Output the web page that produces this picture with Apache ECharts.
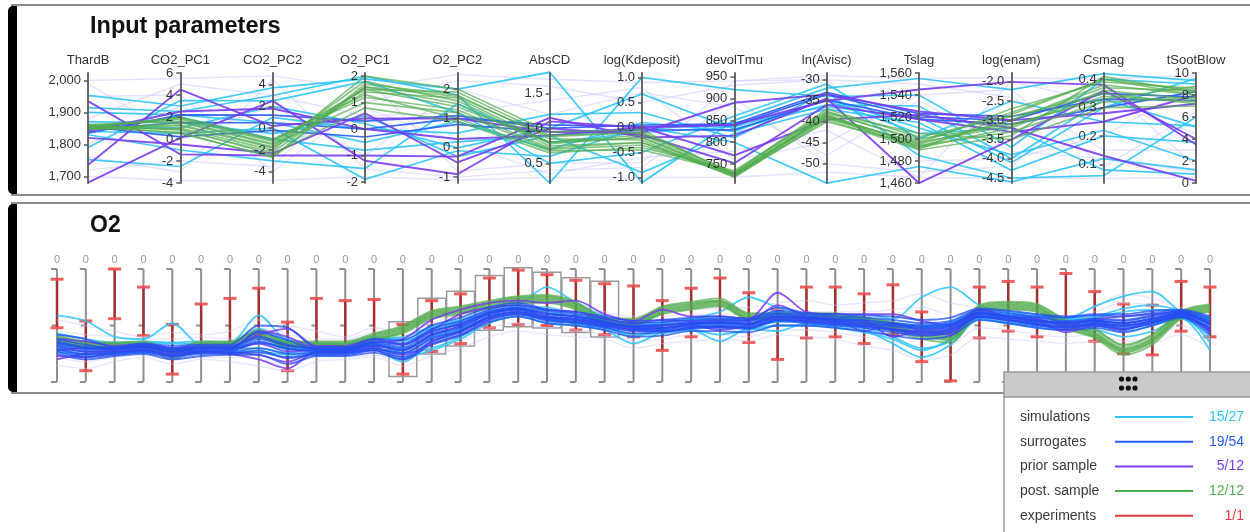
<!DOCTYPE html>
<html>
<head>
<meta charset="utf-8">
<script src="https://cdn.jsdelivr.net/npm/echarts@6/dist/echarts.min.js"></script>
<style>
html, body { margin: 0; padding: 0; background: #fff; }
#chart { width: 1250px; height: 532px; }
</style>
</head>
<body>
<div id="chart"></div>
<script>
const FONT = '"Liberation Sans", Arial, Helvetica, sans-serif';

// ---- groups / legend ----
const groupNames  = ['simulations', 'surrogates', 'prior sample', 'post. sample', 'experiments'];
const groupCounts = ['15/27', '19/54', '5/12', '12/12', '1/1'];
const groupColors = ['#2ec4f6', '#2a5cf6', '#7a3cf0', '#52ad4f', '#e23c3c'];
const fadedColor  = '#c9c6ff';

// ---- input parameter axes ----
const inputAxes = ['ThardB', 'CO2_PC1', 'CO2_PC2', 'O2_PC1', 'O2_PC2', 'AbsCD', 'log(Kdeposit)',
  'devolTmu', 'ln(Avisc)', 'Tslag', 'log(enam)', 'Csmag', 'tSootBlow'];
const inputMin = [1679, -4, -5.02, -2.04, -1.2, 0.22, -1.11, 707, -54.6, 1460, -4.63, 0.034, 0];
const inputMax = [2023, 6, 5.06, 2.12, 2.55, 1.79, 1.09, 958, -28.4, 1560, -1.77, 0.422, 10];
const inputTicks = [
  [1700, 1800, 1900, 2000],
  [-4, -2, 0, 2, 4, 6],
  [-4, -2, 0, 2, 4],
  [-2, -1, 0, 1, 2],
  [-1, 0, 1, 2],
  [0.5, 1.0, 1.5],
  [-1.0, -0.5, 0.0, 0.5, 1.0],
  [750, 800, 850, 900, 950],
  [-50, -45, -40, -35, -30],
  [1460, 1480, 1500, 1520, 1540, 1560],
  [-4.5, -4.0, -3.5, -3.0, -2.5, -2.0],
  [0.1, 0.2, 0.3, 0.4],
  [0, 2, 4, 6, 8, 10]
];
const inputDecimals = [0, 0, 0, 0, 0, 1, 1, 0, 0, 0, 1, 1, 0];

// one row per run: ThardB .. tSootBlow
const inputFaded = [
  [2000, 5.5, 4.8, 1.5, 2.5, 1.7, 0.9, 940, -29, 1555, -1.9, 0.40, 9.8],
  [1700, -3.8, -4.8, -1.8, -1.1, 0.3, -1.0, 720, -52, 1465, -4.5, 0.05, 0.5],
  [1950, 4.0, -4.0, 1.0, 2.3, 1.6, 0.5, 930, -30, 1550, -2.4, 0.15, 3.0],
  [1760, -3.0, 4.5, -1.5, -1.0, 0.4, -0.8, 900, -50, 1470, -4.2, 0.38, 1.5],
  [1880, 5.0, 3.0, 0.5, 1.2, 1.4, 0.8, 760, -45, 1540, -2.2, 0.09, 6.5],
  [1720, -2.0, -3.5, 2.0, -0.8, 0.5, -0.7, 940, -30, 1480, -4.0, 0.20, 9.0],
  [1990, 0.0, 2.0, -1.0, 2.0, 1.2, 0.7, 880, -48, 1535, -3.8, 0.12, 1.0],
  [1800, 3.0, -2.0, 0.8, 0.2, 0.35, -0.6, 780, -42, 1465, -2.0, 0.32, 4.5]
];
const inputSim = [
  [1953, 3.0, 3.7, 1.9, 2.0, 1.8, -1.1, 850, -32, 1555, -2.2, 0.42, 9.3],
  [1915, 2.5, 3.0, 2.0, 1.8, 0.22, 1.0, 920, -34, 1540, -3.7, 0.40, 9.0],
  [1860, 1.0, 2.0, 0.2, 0.0, 1.0, 0.67, 830, -36, 1530, -4.0, 0.33, 5.1],
  [1850, 2.0, -1.0, -0.8, 0.2, 0.9, -0.9, 820, -37, 1515, -4.3, 0.20, 3.7],
  [1840, 0.5, 0.0, -1.9, -0.1, 0.6, 0.0, 800, -54.6, 1475, -4.6, 0.12, 1.2],
  [1830, -1.0, -3.0, -1.5, 1.5, 0.8, -0.1, 835, -35, 1505, -3.2, 0.08, 0.8],
  [1752, -2.5, 1.0, 0.0, 0.5, 1.2, 0.3, 810, -33, 1485, -4.5, 0.06, 6.0],
  [1790, 3.5, 2.5, 1.8, 1.2, 0.5, -0.5, 860, -31, 1500, -2.5, 0.25, 5.2],
  [1870, 1.5, -0.5, 0.5, -0.3, 0.9, -0.05, 845, -36.5, 1520, -4.1, 0.30, 9.5],
  [1900, 2.2, 0.5, -0.5, 0.9, 0.7, 0.1, 825, -34.5, 1510, -3.9, 0.22, 2.0]
];
const inputSur = [
  [1845, 1.5, 0.5, 0.0, 1.0, 1.05, 0.02, 838, -33.5, 1520, -3.0, 0.35, 7.8],
  [1855, 0.2, -0.2, -0.3, 0.8, 0.95, -0.05, 828, -34.8, 1518, -3.1, 0.30, 8.3],
  [1835, 2.2, 1.2, 0.3, 1.1, 1.0, 0.05, 842, -33, 1523, -2.9, 0.33, 7.5]
];
const inputPrior = [
  [1680, 0.1, 2.5, -1.2, -0.9, 1.1, 0.0, 840, -35, 1545, -2.0, 0.38, 3.5],
  [1735, 4.5, 0.2, 0.4, 1.0, 0.95, -0.1, 890, -33.5, 1525, -3.0, 0.28, 7.2],
  [1935, -1.4, -2.5, -1.0, -0.3, 1.15, -0.2, 815, -34.5, 1460, -3.5, 0.36, 4.0],
  [1840, 2.5, 1.8, 0.0, 0.3, 0.9, 0.0, 770, -39.5, 1522, -3.2, 0.13, 0.2],
  [1820, -0.5, -2.3, 0.6, -0.5, 1.0, -0.15, 752, -36, 1518, -3.3, 0.25, 8.0]
];
const inputPost = [
  [1855, 1.8, -1.2, 1.5, 1.9, 0.9, -0.1, 730, -37.5, 1498, -2.8, 0.40, 8.4],
  [1850, 1.2, -1.8, 1.4, 1.7, 0.8, -0.2, 725, -38.5, 1495, -3.0, 0.38, 8.0],
  [1860, 0.8, -2.2, 1.6, 1.5, 0.75, -0.3, 722, -39.0, 1492, -3.2, 0.36, 7.6],
  [1845, 1.5, -1.5, 1.0, 1.2, 0.7, -0.35, 728, -38.0, 1500, -3.1, 0.33, 8.8],
  [1858, 0.5, -2.6, 1.7, 1.8, 0.85, -0.25, 720, -39.5, 1490, -3.4, 0.41, 8.2],
  [1852, 2.0, -1.0, 1.3, 1.0, 0.68, -0.45, 732, -37.0, 1502, -2.9, 0.35, 7.2],
  [1848, 1.0, -2.0, 2.0, 2.0, 0.95, -0.05, 726, -38.8, 1496, -2.7, 0.39, 8.6],
  [1862, 1.6, -1.4, 1.5, 1.4, 0.8, -0.15, 724, -40.0, 1494, -3.3, 0.32, 7.8],
  [1855, 0.9, -2.4, 0.8, 0.9, 0.65, -0.4, 735, -37.8, 1505, -3.5, 0.30, 7.0],
  [1850, 1.3, -1.7, 1.8, 1.6, 0.78, -0.2, 722, -38.3, 1493, -3.0, 0.37, 8.4],
  [1857, 1.9, -1.1, 1.2, 1.3, 0.72, -0.3, 729, -39.2, 1497, -3.15, 0.34, 7.4],
  [1853, 0.6, -2.7, 1.6, 1.75, 0.88, -0.1, 727, -38.6, 1491, -2.85, 0.40, 8.0]
];

// ---- O2 output profile (41 points, normalised 0..100 per point) ----
const o2AxisNames = Array.from({ length: 41 }, () => '0');
const o2Range = [0, 100];
const expHigh = [91,54,100,84,51,69,74,83,53,74,72,73,51,72,78,92,99,95,90,87,85,72,83,92,79,64,84,84,78,86,62,45,84,89,84,96,80,69,68,89,84];
const expLow  = [48,10,56,41,7,27,30,42,10,30,28,30,7,27,34,48,51,50,46,42,40,28,40,49,35,20,39,40,34,42,18,1,39,45,40,52,36,25,24,45,40];
const selectedAxes = [12, 13, 14, 15, 16, 17, 18, 19];

const o2Faded = [
  [55,50,45,40,44,42,45,55,50,45,40,48,44,52,60,70,75,72,70,62,58,62,64,65,66,70,72,68,70,72,78,70,66,64,62,58,66,78,74,66,60],
  [15,12,18,22,16,20,18,14,10,18,20,22,14,24,30,40,45,42,40,38,30,34,36,38,36,42,40,38,32,28,20,24,40,38,36,34,36,30,34,42,30],
  [45,42,40,38,38,40,38,48,42,38,38,44,40,48,56,64,68,66,62,60,56,58,60,60,60,64,62,62,62,64,66,60,62,60,58,56,62,70,68,64,58],
  [22,18,22,24,20,22,22,20,16,22,22,24,18,30,36,48,52,48,46,42,36,38,42,42,40,46,46,44,40,36,30,32,48,46,42,40,42,36,40,50,38]
];
const o2Sim = [
  [59,54,40,38,52,33,34,59,36,34,33,38,40,49,55,63,68,84,70,58,50,52,56,62,75,66,60,58,60,56,75,84,68,62,60,56,67,76,80,62,55],
  [36,31,32,32,30,33,32,40,30,31,31,34,26,30,40,55,60,56,53,49,40,47,50,48,50,53,54,52,48,40,30,36,58,55,53,51,52,48,52,58,35],
  [30,27,28,29,25,30,30,30,26,29,29,30,22,28,38,52,58,52,50,46,34,44,46,36,47,45,52,50,46,34,22,33,55,52,50,48,50,45,50,56,28],
  [40,35,34,35,34,34,34,45,35,33,33,37,36,46,52,60,66,62,58,55,51,50,54,55,55,60,58,57,56,52,48,50,62,60,57,55,57,62,64,62,56],
  [27,24,26,27,24,27,27,27,24,26,26,28,18,35,42,54,60,55,52,48,42,43,46,42,46,50,50,48,44,38,28,38,56,52,48,46,46,40,45,56,40],
  [43,38,35,36,35,36,35,47,38,34,34,40,38,48,54,62,67,66,60,56,52,53,56,56,57,62,59,58,57,53,50,53,63,60,58,56,58,65,68,63,57],
  [33,29,30,30,28,30,30,34,29,30,30,32,30,40,47,57,62,58,55,51,47,48,50,51,50,55,55,53,51,47,44,47,59,56,53,51,53,50,54,60,49]
];
const o2Sur = [
  [38,33,30,33,30,31,31,40,33,30,30,36,34,47,54,64,68,63,60,56,52,53,55,56,55,63,60,58,57,55,52,54,64,61,58,57,59,58,61,63,56],
  [30,25,26,28,24,27,27,30,25,26,26,30,26,39,46,58,62,56,54,50,46,46,49,50,49,56,54,52,50,47,45,47,58,55,52,50,52,50,54,59,48],
  [35,30,29,31,29,30,30,44,37,29,29,34,31,44,52,62,66,61,58,54,50,51,53,54,54,61,58,56,55,52,50,52,62,59,57,54,56,55,59,62,54],
  [27,22,24,26,22,25,25,28,21,24,24,28,22,36,44,56,60,54,52,48,43,44,47,48,47,54,52,50,48,44,41,44,57,54,50,48,50,47,52,58,45],
  [42,38,31,34,32,33,33,50,48,31,31,38,37,50,57,66,70,64,62,58,54,55,57,58,56,66,61,60,59,58,55,57,65,63,60,58,60,60,63,64,58],
  [32,27,27,29,26,28,28,35,30,27,27,32,28,41,48,60,64,58,56,52,48,47,51,52,51,58,56,54,52,49,47,49,60,57,54,52,54,52,56,60,51],
  [25,20,23,25,20,23,24,24,16,23,23,26,20,33,41,53,58,52,50,46,40,41,45,45,44,50,50,48,45,41,38,41,55,52,48,46,48,44,50,57,42],
  [36,31,30,32,28,30,30,38,32,29,29,35,33,45,51,61,65,60,58,53,49,50,52,53,52,60,57,55,54,51,49,51,61,58,55,53,55,54,58,61,53],
  [29,24,25,27,23,26,26,26,22,25,25,29,25,38,45,57,61,55,53,49,45,45,48,49,48,55,53,51,49,46,43,46,58,55,51,49,51,49,53,58,47],
  [34,29,29,31,27,29,29,36,29,28,28,33,29,42,49,60,64,58,56,52,48,48,51,52,51,58,56,54,52,50,48,50,61,57,54,52,54,52,56,61,51]
];
const o2Prior = [
  [20,25,27,28,25,27,25,20,12,27,27,30,24,34,42,55,60,57,55,51,47,48,50,46,50,57,55,53,50,46,42,44,58,55,51,46,52,47,52,58,44],
  [28,30,30,32,30,30,30,45,40,30,30,35,38,55,64,70,72,70,72,60,54,64,58,58,56,79,62,60,60,60,54,50,64,58,56,50,56,58,60,62,50],
  [38,36,32,34,30,32,32,42,47,32,32,38,33,46,60,66,68,64,62,56,52,55,54,55,54,68,58,56,45,52,45,42,62,57,55,44,50,46,55,60,46],
  [32,27,28,30,27,28,28,34,27,28,28,32,28,42,50,62,65,60,58,53,49,50,52,53,52,58,57,55,54,40,46,48,60,57,54,52,54,52,56,60,52],
  [23,22,26,28,24,26,26,24,18,26,26,28,20,36,45,58,62,57,55,50,46,45,48,49,48,55,54,52,50,47,44,46,58,55,52,48,52,50,54,58,47]
];
const o2Post = [
  [40,35,34,35,28,35,35,45,35,35,35,42,49,62,66,71,75,76,70,56,55,66,70,72,60,60,60,60,56,52,46,43,67,70,68,54,46,32,41,62,68],
  [36,32,31,32,25,32,32,40,32,32,32,38,44,57,61,66,70,71,65,52,51,61,65,68,56,56,56,56,52,46,40,37,62,65,63,48,40,26,35,57,63],
  [38,34,33,34,22,34,34,43,34,34,34,40,47,60,64,69,73,74,68,54,53,64,68,71,58,58,58,58,54,49,43,40,65,68,66,51,43,29,38,60,66],
  [34,31,30,31,20,31,31,39,31,31,31,37,43,56,60,65,69,70,64,51,50,60,64,67,55,55,55,55,51,45,38,35,61,64,62,47,39,24,33,56,62],
  [39,35,33,34,27,33,34,44,34,33,33,41,48,61,65,70,74,75,69,55,53,65,69,72,59,58,58,58,55,50,44,41,66,69,67,52,44,30,39,61,67],
  [35,32,31,32,24,32,32,41,32,32,32,37,45,58,62,67,71,72,66,52,51,62,66,69,56,56,56,56,52,47,41,38,63,66,64,49,41,27,36,58,64],
  [37,33,32,33,26,33,33,42,33,33,33,39,46,59,63,68,72,73,67,53,52,63,67,70,57,57,57,57,53,48,42,39,64,67,65,50,42,28,37,59,65],
  [41,36,35,36,29,36,36,46,36,36,36,43,50,63,67,72,76,77,71,57,56,67,71,74,61,61,61,61,57,53,47,44,68,71,69,55,47,33,42,63,69]
];

// ---- chart ----
const chart = echarts.init(document.getElementById('chart'), null, { renderer: 'canvas' });

function fmt(d) {
  return v => d > 0 ? Number(v).toFixed(d) : echarts.format.addCommas(v);
}

// parallel axes put labels on the right; a negative margin + right alignment
// and negative tick length move them to the left side of each axis
const parallelAxis = inputAxes.map((name, i) => ({
  dim: i,
  name: name,
  min: inputMin[i],
  max: inputMax[i],
  axisLabel: {
    customValues: inputTicks[i], formatter: fmt(inputDecimals[i]),
    margin: -7, align: 'right', color: '#333', fontSize: 13, fontFamily: FONT
  },
  axisTick: { customValues: inputTicks[i], length: -4, lineStyle: { color: '#5a5a5a', width: 1.5 } }
}));

function parallelSeries(rows, color, width, opacity) {
  return {
    type: 'parallel', parallelIndex: 0, data: rows, silent: true,
    lineStyle: { color: color, width: width, opacity: opacity }
  };
}

function o2Lines(rows, color, width, opacity) {
  return rows.map(r => ({
    type: 'line', xAxisIndex: 0, yAxisIndex: 0, data: r, silent: true,
    showSymbol: false, smooth: 0.3, z: 3,
    lineStyle: { color: color, width: width, opacity: opacity }
  }));
}

const series = [
  parallelSeries(inputFaded, fadedColor, 1.4, 0.5),
  parallelSeries(inputSim, groupColors[0], 1.7, 0.9),
  parallelSeries(inputSur, groupColors[1], 1.7, 0.9),
  parallelSeries(inputPrior, groupColors[2], 1.9, 0.9),
  parallelSeries(inputPost, groupColors[3], 1.6, 0.7),
  // O2 point axes with bracket ticks
  {
    type: 'custom', xAxisIndex: 0, yAxisIndex: 0, silent: true, z: 1,
    data: o2AxisNames.map((n, i) => [i]),
    renderItem: (params, api) => {
      const i = api.value(0);
      const top = api.coord([i, o2Range[1]]);
      const bot = api.coord([i, o2Range[0]]);
      const mid = api.coord([i, (o2Range[0] + o2Range[1]) / 2]);
      const s = { stroke: '#8f8f8f', lineWidth: 2 };
      return { type: 'group', children: [
        { type: 'line', shape: { x1: top[0], y1: top[1], x2: bot[0], y2: bot[1] }, style: s },
        { type: 'line', shape: { x1: top[0] - 6, y1: top[1], x2: top[0], y2: top[1] }, style: s },
        { type: 'line', shape: { x1: mid[0] - 5, y1: mid[1], x2: mid[0], y2: mid[1] }, style: s },
        { type: 'line', shape: { x1: bot[0] - 6, y1: bot[1], x2: bot[0], y2: bot[1] }, style: s }
      ] };
    }
  },
  // selected ranges
  {
    type: 'custom', xAxisIndex: 0, yAxisIndex: 0, silent: true, z: 1,
    data: selectedAxes.map(i => [i, expLow[i], expHigh[i]]),
    encode: { x: 0, y: [1, 2] },
    renderItem: (params, api) => {
      const i = api.value(0);
      const lo = api.coord([i, api.value(1)]);
      const hi = api.coord([i, api.value(2)]);
      const w = api.size([1, 0])[0];
      return { type: 'rect',
        shape: { x: lo[0] - w / 2 + 0.5, y: hi[1] - 2.5, width: w - 1, height: lo[1] - hi[1] + 5 },
        style: { fill: 'none', stroke: '#9a9a9a', lineWidth: 1.5 } };
    }
  },
  // experiment error bars
  {
    type: 'custom', name: groupNames[4], xAxisIndex: 0, yAxisIndex: 0, silent: true, z: 1,
    data: expHigh.map((h, i) => [i, expLow[i], h]),
    encode: { x: 0, y: [1, 2] },
    renderItem: (params, api) => {
      const i = api.value(0);
      const lo = api.coord([i, api.value(1)]);
      const hi = api.coord([i, api.value(2)]);
      const cap = 6.5;
      return { type: 'group', children: [
        { type: 'line', shape: { x1: lo[0], y1: lo[1], x2: hi[0], y2: hi[1] }, style: { stroke: '#a53030', lineWidth: 2.5 } },
        { type: 'line', shape: { x1: hi[0] - cap, y1: hi[1], x2: hi[0] + cap, y2: hi[1] }, style: { stroke: '#ec4f4f', lineWidth: 3, opacity: 0.9 } },
        { type: 'line', shape: { x1: lo[0] - cap, y1: lo[1], x2: lo[0] + cap, y2: lo[1] }, style: { stroke: '#ec4f4f', lineWidth: 3, opacity: 0.9 } }
      ] };
    }
  },
  ...o2Lines(o2Faded, fadedColor, 1.3, 0.45),
  ...o2Lines(o2Sim, groupColors[0], 1.8, 0.85),
  ...o2Lines(o2Post, groupColors[3], 1.8, 0.7),
  ...o2Lines(o2Prior, groupColors[2], 1.8, 0.85),
  ...o2Lines(o2Sur, '#1f4ff2', 1.9, 0.75)
];

// panel frames, titles and legend box
const graphics = [];
function panel(y, h) {
  graphics.push({ type: 'rect', z: -10, shape: { x: 12, y: y, width: 1250, height: h },
    style: { fill: '#fff', stroke: '#8c8c8c', lineWidth: 2 } });
  graphics.push({ type: 'rect', z: -9, shape: { x: 8, y: y + 1, width: 9, height: h - 2, r: [5, 0, 0, 5] },
    style: { fill: '#000' } });
}
panel(5, 190);
panel(203, 190);
graphics.push({ type: 'text', z: 5, left: 90, top: 15,
  style: { text: 'Input parameters', font: 'bold 23.5px ' + FONT, fill: '#111' } });
graphics.push({ type: 'text', z: 5, left: 90, top: 214,
  style: { text: 'O2', font: 'bold 23px ' + FONT, fill: '#111' } });

// legend
graphics.push({ type: 'rect', z: 100, shape: { x: 1004, y: 372, width: 260, height: 25 },
  style: { fill: '#c9c9c9', stroke: '#9a9a9a', lineWidth: 1.5 } });
graphics.push({ type: 'rect', z: 100, shape: { x: 1004, y: 397, width: 260, height: 150 },
  style: { fill: '#fff', stroke: '#9a9a9a', lineWidth: 1.5 } });
[1121.5, 1128.3, 1135].forEach(cx => [379, 388].forEach(cy => {
  graphics.push({ type: 'circle', z: 101, shape: { cx: cx, cy: cy, r: 2.6 }, style: { fill: '#111' } });
}));
groupNames.forEach((name, k) => {
  const cy = 417 + k * 24.7;
  graphics.push({ type: 'text', z: 101, x: 1020, y: cy,
    style: { text: name, font: '14px ' + FONT, fill: '#3a3a3a', verticalAlign: 'middle' } });
  graphics.push({ type: 'line', z: 101, shape: { x1: 1115, y1: cy, x2: 1193, y2: cy },
    style: { stroke: groupColors[k], lineWidth: 2 } });
  graphics.push({ type: 'text', z: 101, x: 1244, y: cy,
    style: { text: groupCounts[k], font: '14px ' + FONT, fill: groupColors[k], align: 'right', verticalAlign: 'middle' } });
});

chart.setOption({
  animation: false,
  textStyle: { fontFamily: FONT },
  parallel: {
    left: 88, right: 54, top: 73, bottom: 349,
    parallelAxisDefault: {
      type: 'value',
      nameLocation: 'end',
      nameGap: 6,
      nameTextStyle: { color: '#333', fontSize: 13, fontFamily: FONT },
      axisLine: { lineStyle: { color: '#5a5a5a', width: 1.8 } },
      splitLine: { show: false }
    }
  },
  parallelAxis: parallelAxis,
  grid: { left: 57, right: 40, top: 269, bottom: 150, containLabel: false },
  xAxis: [
    { type: 'category', data: o2AxisNames, boundaryGap: false, position: 'bottom',
      axisLine: { show: false }, axisTick: { show: false }, axisLabel: { show: false }, splitLine: { show: false } },
    { type: 'category', data: o2AxisNames, boundaryGap: false, position: 'top',
      axisLine: { show: false }, axisTick: { show: false }, splitLine: { show: false },
      axisLabel: { interval: 0, color: '#9a9a9a', fontSize: 11, margin: 4 } }
  ],
  yAxis: { type: 'value', min: o2Range[0], max: o2Range[1], show: false },
  graphic: { elements: graphics },
  series: series
});
</script>
</body>
</html>
